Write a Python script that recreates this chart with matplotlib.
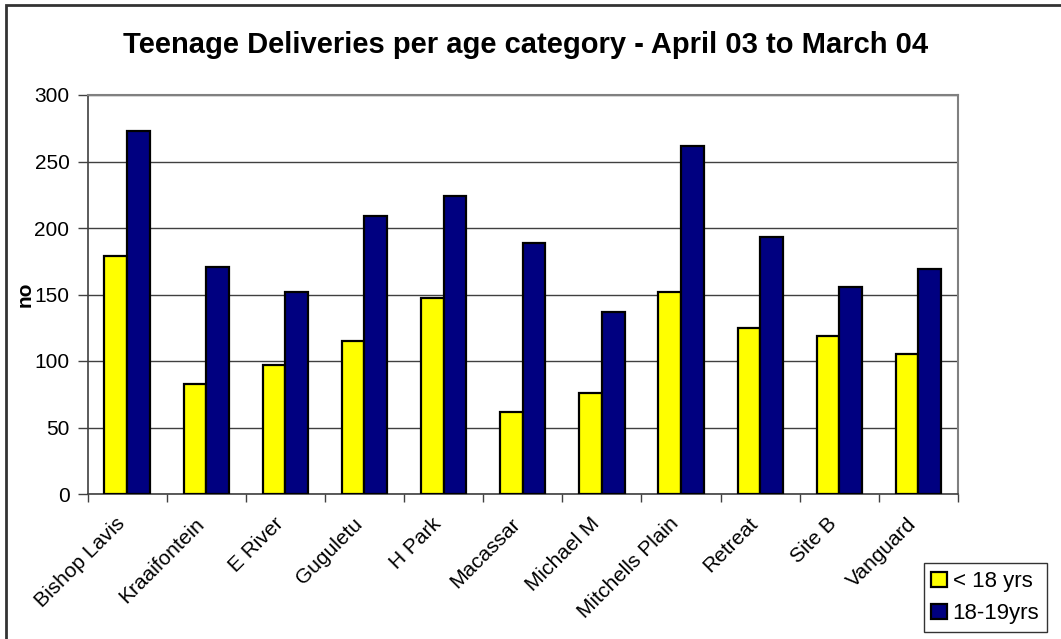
import matplotlib
matplotlib.use("Agg")
import matplotlib.pyplot as plt
import numpy as np
from matplotlib.patches import Rectangle

plt.rcParams["font.family"] = ["Liberation Sans", "DejaVu Sans"]

# Facilities and deliveries per age group
clinics = ["Bishop Lavis", "Kraaifontein", "E River", "Guguletu", "H Park",
           "Macassar", "Michael M", "Mitchells Plain", "Retreat", "Site B",
           "Vanguard"]
under_18 = [179, 83, 97, 115, 147, 62, 76, 152, 125, 119, 105]
age_18_19 = [273, 171, 152, 209, 224, 189, 137, 262, 193, 156, 169]
series_labels = ["< 18 yrs", "18-19yrs"]
y_ticks = [0, 50, 100, 150, 200, 250, 300]

W, H = 1061, 639
fig = plt.figure(figsize=(W / 100, H / 100), dpi=100)

# plot area in pixel coordinates
left, right, top, bottom = 87.5, 958, 95, 494
ax = fig.add_axes([left / W, 1 - bottom / H, (right - left) / W, (bottom - top) / H])

x = np.arange(len(clinics))
bw = 0.286
ax.bar(x - bw / 2, under_18, bw, color="#ffff00", edgecolor="black", linewidth=1.6,
       label=series_labels[0], zorder=3)
ax.bar(x + bw / 2, age_18_19, bw, color="#000080", edgecolor="black", linewidth=1.6,
       label=series_labels[1], zorder=3)

ax.set_xlim(-0.5, len(clinics) - 0.5)
ax.set_ylim(0, 300)
ax.set_yticks(y_ticks)
ax.yaxis.grid(True, color="#404040", linewidth=1.0, zorder=0)
ax.set_axisbelow(True)

# category ticks sit between groups, labels centred under each group
ax.set_xticks(np.arange(len(clinics) + 1) - 0.5)
ax.set_xticklabels([])
ax.tick_params(axis="x", direction="out", length=6, width=1, color="#404040")
ax.tick_params(axis="y", direction="out", length=7, width=1, color="#404040",
               labelsize=15, pad=6)
for i, name in enumerate(clinics):
    ax.annotate(name, xy=(i, 0), xycoords=("data", "axes fraction"),
                xytext=(-12, -20), textcoords="offset pixels",
                rotation=45, ha="right", va="top", rotation_mode="anchor",
                fontsize=15)

for side in ["top", "right"]:
    ax.spines[side].set_color("#808080")
    ax.spines[side].set_linewidth(1.5)
ax.spines["left"].set_color("#404040")
ax.spines["bottom"].set_color("#404040")
ax.spines["left"].set_linewidth(1.2)
ax.spines["bottom"].set_linewidth(1.2)

ax.set_ylabel("no", fontsize=15, fontweight="bold", labelpad=0)

fig.text(526 / W, 1 - 45 / H, "Teenage Deliveries per age category - April 03 to March 04",
         ha="center", va="center", fontsize=21, fontweight="bold")

leg = fig.legend(loc="lower right", bbox_to_anchor=(1047 / W, 1 - 632 / H),
                 fontsize=16, frameon=True, fancybox=False, handlelength=0.7,
                 handleheight=0.7, handletextpad=0.25, borderpad=0.35,
                 labelspacing=0.5, borderaxespad=0)
leg.get_frame().set_edgecolor("black")
leg.get_frame().set_linewidth(1.0)

# chart frame, open at right and bottom edges
fig.add_artist(Rectangle((5.5 / W, -0.1), 1.2, 1 - 5.5 / H + 0.1, transform=fig.transFigure,
                         fill=False, edgecolor="#333333", linewidth=2))

fig.savefig("out.png", dpi=100)
